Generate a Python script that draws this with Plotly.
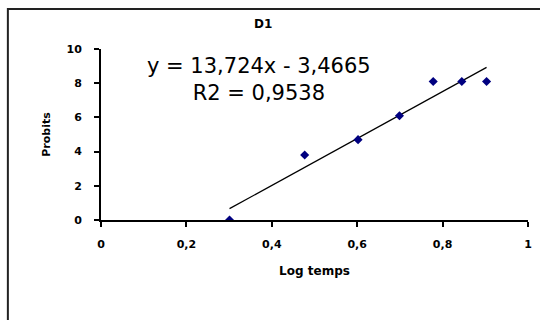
import plotly.graph_objects as go

# Data
log_temps = [0.301, 0.477, 0.602, 0.699, 0.778, 0.845, 0.903]
probits = [0.0, 3.8, 4.7, 6.1, 8.1, 8.1, 8.1]
slope = 13.724
intercept = -3.4665
r2_text = "0,9538"
x_ticks = [0, 0.2, 0.4, 0.6, 0.8, 1]
x_tick_labels = ["0", "0,2", "0,4", "0,6", "0,8", "1"]
y_ticks = [0, 2, 4, 6, 8, 10]
y_tick_labels = ["0", "2", "4", "6", "8", "10"]

x_fit = [min(log_temps), max(log_temps)]
y_fit = [slope * v + intercept for v in x_fit]

fig = go.Figure()
fig.add_trace(go.Scatter(x=x_fit, y=y_fit, mode="lines",
                         line=dict(color="black", width=1.2),
                         showlegend=False, hoverinfo="skip"))
fig.add_trace(go.Scatter(x=log_temps, y=probits, mode="markers",
                         marker=dict(symbol="diamond", size=7, color="#000080"),
                         showlegend=False))

W, H = 540, 320
L, R, T, B = 101, 8, 49, 100
pw, ph = W - L - R, H - T - B

def px(xp):
    return (xp - L) / pw

def py(yp):
    return (H - B - yp) / ph

fig.add_shape(type="rect", xref="paper", yref="paper",
              x0=px(7), x1=px(546), y0=py(330), y1=py(9),
              line=dict(color="#222222", width=2), fillcolor="rgba(0,0,0,0)")

fig.add_annotation(xref="paper", yref="paper", x=px(265), y=py(24),
                   xanchor="center", yanchor="middle",
                   text="<b>D1</b>", showarrow=False,
                   font=dict(family="DejaVu Sans", size=12, color="black"))
fig.add_annotation(xref="paper", yref="paper", x=px(260), y=py(79),
                   xanchor="center", yanchor="middle",
                   text="y = 13,724x - 3,4665<br>R2 = " + r2_text, showarrow=False,
                   font=dict(family="DejaVu Sans", size=21, color="black"),
                   align="center")

tick_font = dict(family="DejaVu Sans", size=11, color="black", weight="bold")
fig.update_xaxes(range=[0, 1], tickvals=x_ticks, ticktext=x_tick_labels,
                 ticks="outside", ticklen=5, tickwidth=1.5, tickcolor="black",
                 showline=True, linewidth=2, linecolor="black",
                 showgrid=False, zeroline=False, tickfont=tick_font,
                 ticklabelstandoff=8,
                 title=dict(text="Log temps", standoff=16,
                            font=dict(family="DejaVu Sans", size=12, color="black", weight="bold")))
fig.update_yaxes(range=[0, 10], tickvals=y_ticks, ticktext=y_tick_labels,
                 ticks="outside", ticklen=5, tickwidth=1.5, tickcolor="black",
                 showline=True, linewidth=2, linecolor="black",
                 showgrid=False, zeroline=False, tickfont=tick_font,
                 ticklabelstandoff=10,
                 title=dict(text="Probits", standoff=14,
                            font=dict(family="DejaVu Sans", size=11, color="black", weight="bold")))
fig.update_layout(width=W, height=H, margin=dict(l=L, r=R, t=T, b=B),
                  paper_bgcolor="white", plot_bgcolor="white", showlegend=False)
fig.write_html("out.html")
